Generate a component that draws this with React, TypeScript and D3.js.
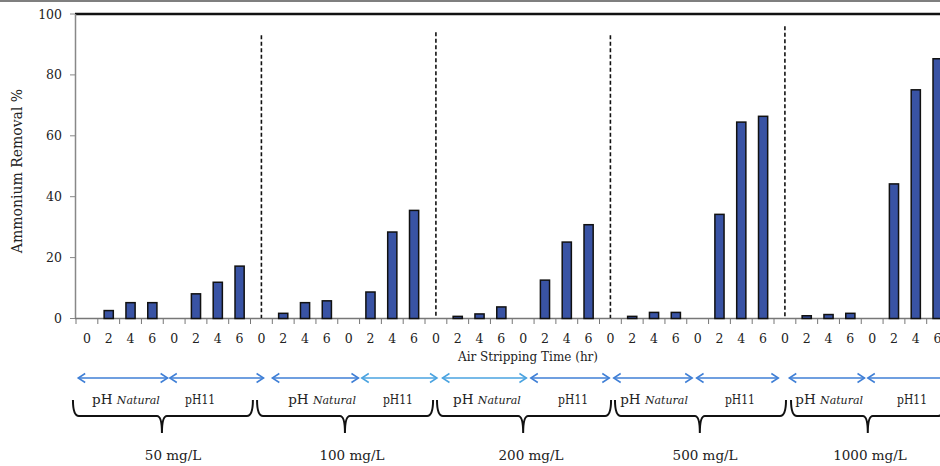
import React from "react";
import * as d3 from "d3";

// categories
const concentrations = ["50 mg/L", "100 mg/L", "200 mg/L", "500 mg/L", "1000 mg/L"];
const times = ["0", "2", "4", "6", "0", "2", "4", "6"];
const phLabels = ["pH Natural", "pH11"];

// ammonium removal % for each concentration, times 0-6 at natural pH then 0-6 at pH 11
const removal50 = [0, 2.6, 5.2, 5.2, 0, 8.1, 11.9, 17.2];
const removal100 = [0, 1.7, 5.2, 5.8, 0, 8.7, 28.4, 35.5];
const removal200 = [0, 0.7, 1.5, 3.8, 0, 12.6, 25.1, 30.8];
const removal500 = [0, 0.7, 2.0, 2.0, 0, 34.2, 64.5, 66.4];
const removal1000 = [0, 0.9, 1.3, 1.7, 0, 44.2, 75.1, 85.3];
const dividerTops = [93, 94, 93, 96];
const yTicks = [0, 20, 40, 60, 80, 100];

const W = 940, H = 466;
const font = "'DejaVu Serif', serif";

// hand-drawn annotations below the axis, in band units
const braceSpans = [[-0.14, 3.94, 8.11], [8.3, 12.33, 16.37], [16.55, 20.5, 24.53], [24.71, 28.6, 32.55], [32.78, 36.3, 39.8]];
const braceLabelPos = [4.45, 12.65, 20.86, 28.84, 36.4];
const arrowSpans = [[0.1, 4.2], [4.3, 8.6], [9.0, 12.95], [13.1, 16.55], [16.8, 20.65], [20.85, 24.45], [24.65, 28.25], [28.45, 32.2], [32.7, 36.15], [36.3, 40.2]];
const phLabelPos = [2.29, 5.69, 11.28, 14.76, 18.84, 22.79, 26.5, 30.44, 34.53, 38.33];

export default function App() {
  const series = [removal50, removal100, removal200, removal500, removal1000];
  const rows: { key: string; t: string; v: number }[] = [];
  series.forEach((vals, g) =>
    vals.forEach((v, i) => rows.push({ key: g + "-" + i, t: times[i], v }))
  );

  const x = d3.scaleBand<string>().domain(rows.map(r => r.key)).range([76, 948.5]).padding(0);
  const y = d3.scaleLinear().domain([0, 100]).range([318.5, 14]);
  const bw = x.bandwidth();
  const u = (n: number) => 76 + n * x.step();
  const barW = bw * 0.42;

  const arrowY = 378;
  const chevron = (px: number, dir: number) => `M${px + dir * 7},${arrowY - 4.5} L${px},${arrowY} L${px + dir * 7},${arrowY + 4.5}`;

  return (
    <svg width={W} height={H} style={{ position: "absolute", left: 0, top: 0, background: "#fff" }} fontFamily={font}>
      <line x1={0} x2={W} y1={1} y2={1} stroke="#555" strokeWidth={1.5} />
      <line x1={75} x2={W} y1={14} y2={14} stroke="#111" strokeWidth={2.5} />

      {/* y axis */}
      <line x1={75.5} x2={75.5} y1={14} y2={319} stroke="#888" strokeWidth={1.5} />
      {yTicks.map(t => (
        <g key={t}>
          <line x1={70} x2={75} y1={y(t)} y2={y(t)} stroke="#888" strokeWidth={1} />
          <text x={62} y={y(t) + 4.5} fontSize={12.5} textAnchor="end" fill="#222">{t}</text>
        </g>
      ))}
      <text transform={`translate(22,${171}) rotate(-90)`} fontSize={14} textAnchor="middle" fill="#222">Ammonium Removal %</text>

      {/* x axis */}
      <line x1={75} x2={W} y1={318.5} y2={318.5} stroke="#777" strokeWidth={1.5} />
      {rows.map(r => (
        <line key={"t" + r.key} x1={x(r.key)!} x2={x(r.key)!} y1={319} y2={324} stroke="#777" strokeWidth={1} />
      ))}
      {rows.map(r => (
        <text key={"l" + r.key} x={x(r.key)! + bw / 2} y={343} fontSize={12.5} textAnchor="middle" fill="#222">{r.t}</text>
      ))}
      <text x={528} y={361} fontSize={12} textAnchor="middle" fill="#222">Air Stripping Time (hr)</text>

      {/* bars */}
      {rows.filter(r => r.v > 0).map(r => (
        <rect key={"b" + r.key} x={x(r.key)! + (bw - barW) / 2} y={y(r.v)} width={barW} height={y(0) - y(r.v)}
          fill="#3953A4" stroke="#111" strokeWidth={1.5} />
      ))}

      {/* group dividers */}
      {dividerTops.map((top, k) => {
        const key = (k + 1) + "-0";
        const cx = x(key)! + bw / 2;
        return <line key={"d" + k} x1={cx} x2={cx} y1={y(top)} y2={318} stroke="#111" strokeWidth={1.6} strokeDasharray="4,2.5" />;
      })}

      {/* pH arrows */}
      {arrowSpans.map(([a, b], k) => {
        const x0 = u(a), x1 = u(b);
        const c = k === 3 || k === 4 ? "#4aa3e0" : "#3f7fd6";
        return (
          <g key={"a" + k} stroke={c} strokeWidth={1.5} fill="none">
            <line x1={x0} x2={x1} y1={arrowY} y2={arrowY} />
            <path d={chevron(x0, 1)} />
            <path d={chevron(x1, -1)} />
          </g>
        );
      })}
      {phLabelPos.map((p, k) => {
        const cx = u(p);
        const lbl = phLabels[k % 2];
        return lbl === "pH11" ? (
          <text key={"p" + k} x={cx} y={404} fontSize={13.5} textAnchor="middle" fill="#222"
            textLength={30} lengthAdjust="spacingAndGlyphs">{lbl}</text>
        ) : (
          <text key={"p" + k} x={cx} y={404} fontSize={13.5} textAnchor="middle" fill="#222">
            pH <tspan fontStyle="italic" fontSize={11}>Natural</tspan>
          </text>
        );
      })}

      {/* concentration braces */}
      {braceSpans.map(([a, m, b], k) => {
        const x0 = u(a), xm = u(m), x1 = u(b);
        const d = `M${x0},400 Q${x0},416 ${x0 + 6},416 L${xm - 5},416 Q${xm},416 ${xm},433 Q${xm},416 ${xm + 5},416 L${x1 - 6},416 Q${x1},416 ${x1},400`;
        return (
          <g key={"br" + k}>
            <path d={d} fill="none" stroke="#111" strokeWidth={2} />
            <text x={u(braceLabelPos[k])} y={460} fontSize={13.5} textAnchor="middle" fill="#222">{concentrations[k]}</text>
          </g>
        );
      })}
    </svg>
  );
}
